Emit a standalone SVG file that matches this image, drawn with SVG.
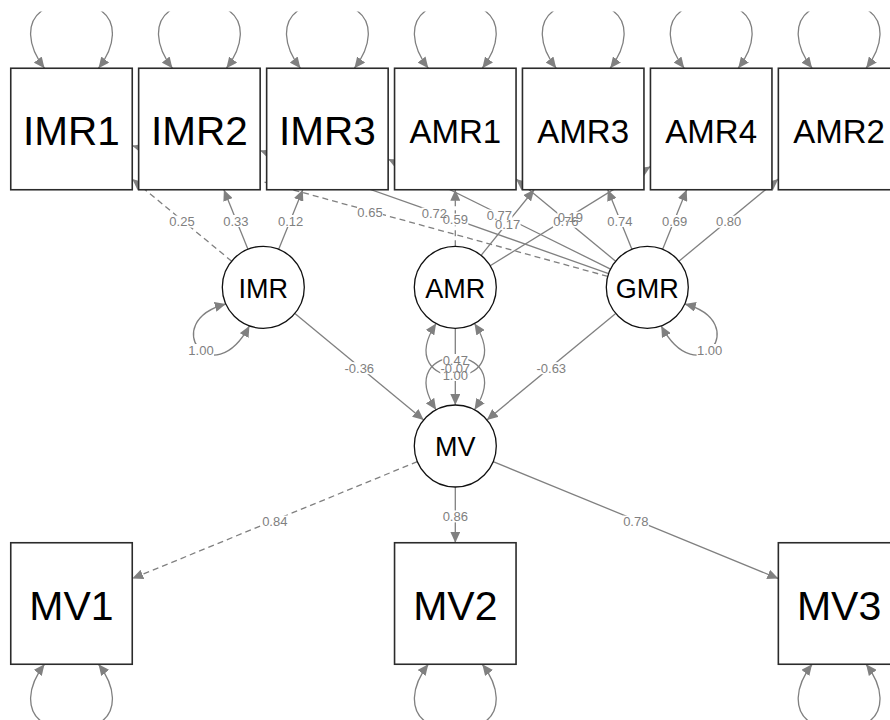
<svg xmlns="http://www.w3.org/2000/svg" xmlns:xlink="http://www.w3.org/1999/xlink" width="890" height="720" viewBox="0 0 890 720">
  <style>
    .edge { fill: none; stroke: #808080; stroke-width: 1.3; }
    .dash { stroke-dasharray: 6 4; }
    .box { fill: #ffffff; stroke: #2b2b2b; stroke-width: 1.6; }
    .lat { fill: #ffffff; stroke: #111111; stroke-width: 1.3; }
    .lblbg { fill: #ffffff; }
    .lbl { font-family: "Liberation Sans", Arial, sans-serif; font-size: 13px; fill: #808080; text-anchor: middle; }
    .name { font-family: "Liberation Sans", Arial, sans-serif; fill: #000000; text-anchor: middle; }
  </style>
  <defs>
    <marker id="ah" viewBox="0 0 11 10" refX="11" refY="5" markerWidth="11" markerHeight="10" markerUnits="userSpaceOnUse" orient="auto-start-reverse">
      <path d="M0,0 L11,5 L0,10 z" fill="#808080"/>
    </marker>
    <clipPath id="plotArea">
      <rect x="0" y="11.5" width="890" height="720"/>
    </clipPath>
    <!-- residual variance loops for manifest variables, centred on x = 0 -->
    <path id="loopTop" class="edge" d="M-27,68.25 C-45,45 -45,22 -30,11 C-15,0 15,0 30,11 C45,22 45,45 27,68.25" marker-start="url(#ah)" marker-end="url(#ah)"/>
    <path id="loopBottom" class="edge" d="M-27,664.25 C-45,687.5 -45,710.5 -30,721.5 C-15,732.5 15,732.5 30,721.5 C45,710.5 45,687.5 27,664.25" marker-start="url(#ah)" marker-end="url(#ah)"/>
  </defs>

  <rect x="0" y="0" width="890" height="720" fill="#ffffff"/>

  <g id="connectors">
    <!-- variances of the indicators -->
    <g clip-path="url(#plotArea)">
      <use xlink:href="#loopTop" x="71.5"/>
      <use xlink:href="#loopTop" x="199.4"/>
      <use xlink:href="#loopTop" x="327.4"/>
      <use xlink:href="#loopTop" x="455.3"/>
      <use xlink:href="#loopTop" x="583.2"/>
      <use xlink:href="#loopTop" x="711.2"/>
      <use xlink:href="#loopTop" x="839.1"/>
    </g>
    <use xlink:href="#loopBottom" x="71.5"/>
    <use xlink:href="#loopBottom" x="455.3"/>
    <use xlink:href="#loopBottom" x="839.1"/>

    <!-- variances of the latent variables -->
    <path class="edge" d="M225.8,304 C158,322 212,395 249.4,325.9" marker-start="url(#ah)" marker-end="url(#ah)"/>
    <path class="edge" d="M684.8,304 C752.6,322 698.6,395 661.2,325.9" marker-start="url(#ah)" marker-end="url(#ah)"/>
    <path class="edge" d="M436.1,323.5 C390,393.5 520.6,393.5 474.5,323.5" marker-start="url(#ah)" marker-end="url(#ah)"/>
    <path class="edge" d="M436.1,409.8 C390,339.8 520.6,339.8 474.5,409.8" marker-start="url(#ah)" marker-end="url(#ah)"/>

    <!-- IMR loadings -->
    <line class="edge dash" x1="231.7" y1="261.2" x2="132.25" y2="179.1" marker-end="url(#ah)"/>
    <line class="edge" x1="247.95" y1="249.3" x2="223.9" y2="189.75" marker-end="url(#ah)"/>
    <line class="edge" x1="278.7" y1="249.3" x2="302.8" y2="189.75" marker-end="url(#ah)"/>
    <!-- AMR loadings -->
    <line class="edge dash" x1="455.3" y1="246.3" x2="455.3" y2="189.75" marker-end="url(#ah)"/>
    <line class="edge" x1="481.1" y1="255.4" x2="534.1" y2="189.75" marker-end="url(#ah)"/>
    <line class="edge" x1="490.2" y1="265.7" x2="650.45" y2="166.6" marker-end="url(#ah)"/>
    <!-- GMR loadings -->
    <line class="edge dash" x1="607.8" y1="276.4" x2="132.25" y2="145.7" marker-end="url(#ah)"/>
    <line class="edge" x1="608.6" y1="273.6" x2="260.15" y2="150.5" marker-end="url(#ah)"/>
    <line class="edge" x1="610.55" y1="269.1" x2="388.15" y2="159.1" marker-end="url(#ah)"/>
    <line class="edge" x1="615.66" y1="261.2" x2="516.05" y2="179.1" marker-end="url(#ah)"/>
    <line class="edge" x1="631.9" y1="249.3" x2="607.8" y2="189.75" marker-end="url(#ah)"/>
    <line class="edge" x1="662.65" y1="249.3" x2="686.7" y2="189.75" marker-end="url(#ah)"/>
    <line class="edge" x1="678.9" y1="261.2" x2="778.35" y2="179.1" marker-end="url(#ah)"/>
    <!-- regressions on MV -->
    <line class="edge" x1="294.9" y1="313.4" x2="423.7" y2="419.9" marker-end="url(#ah)"/>
    <line class="edge" x1="455.3" y1="328.3" x2="455.3" y2="405" marker-end="url(#ah)"/>
    <line class="edge" x1="615.7" y1="313.4" x2="486.9" y2="419.9" marker-end="url(#ah)"/>
    <!-- MV loadings -->
    <line class="edge dash" x1="417.4" y1="461.6" x2="132.25" y2="578.6" marker-end="url(#ah)"/>
    <line class="edge" x1="455.3" y1="487" x2="455.3" y2="542.75" marker-end="url(#ah)"/>
    <line class="edge" x1="493.2" y1="461.6" x2="778.35" y2="578.6" marker-end="url(#ah)"/>
  </g>

  <g id="edge-labels">
    <g class="lblbg">
      <rect x="169" y="215.6" width="26" height="12"/>
      <rect x="222.9" y="215" width="26" height="12"/>
      <rect x="277.7" y="215" width="26" height="12"/>
      <rect x="442.3" y="213.5" width="26" height="12"/>
      <rect x="494.6" y="218.1" width="26" height="12"/>
      <rect x="557.3" y="211.7" width="26" height="12"/>
      <rect x="357" y="206.6" width="26" height="12"/>
      <rect x="421.4" y="207.6" width="26" height="12"/>
      <rect x="486.4" y="209.6" width="26" height="12"/>
      <rect x="552.9" y="215.7" width="26" height="12"/>
      <rect x="606.9" y="215" width="26" height="12"/>
      <rect x="661.7" y="215" width="26" height="12"/>
      <rect x="715.6" y="215.7" width="26" height="12"/>
      <rect x="344.3" y="362.15" width="30" height="12"/>
      <rect x="536.3" y="362.15" width="30" height="12"/>
      <rect x="440.3" y="362.15" width="30" height="12"/>
      <rect x="261.8" y="515.6" width="26" height="12"/>
      <rect x="442.3" y="510.4" width="26" height="12"/>
      <rect x="622.8" y="515.6" width="26" height="12"/>
      <rect x="188" y="344" width="26" height="12"/>
      <rect x="696.6" y="344" width="26" height="12"/>
      <rect x="442.3" y="369" width="26" height="12"/>
      <rect x="442.3" y="354" width="26" height="12"/>
    </g>
    <text class="lbl" x="182" y="226.2">0.25</text>
    <text class="lbl" x="235.9" y="225.6">0.33</text>
    <text class="lbl" x="290.7" y="225.6">0.12</text>
    <text class="lbl" x="455.3" y="224.1">0.59</text>
    <text class="lbl" x="507.6" y="228.7">0.17</text>
    <text class="lbl" x="570.3" y="222.3">0.19</text>
    <text class="lbl" x="370" y="217.2">0.65</text>
    <text class="lbl" x="434.4" y="218.2">0.72</text>
    <text class="lbl" x="499.4" y="220.2">0.77</text>
    <text class="lbl" x="565.9" y="226.3">0.76</text>
    <text class="lbl" x="619.9" y="225.6">0.74</text>
    <text class="lbl" x="674.7" y="225.6">0.69</text>
    <text class="lbl" x="728.6" y="226.3">0.80</text>
    <text class="lbl" x="359.3" y="372.75">-0.36</text>
    <text class="lbl" x="551.3" y="372.75">-0.63</text>
    <text class="lbl" x="455.3" y="372.75">-0.07</text>
    <text class="lbl" x="274.8" y="526.2">0.84</text>
    <text class="lbl" x="455.3" y="521">0.86</text>
    <text class="lbl" x="635.8" y="526.2">0.78</text>
    <text class="lbl" x="201" y="354.6">1.00</text>
    <text class="lbl" x="709.6" y="354.6">1.00</text>
    <text class="lbl" x="455.3" y="379.6">1.00</text>
    <text class="lbl" x="455.3" y="364.6">0.47</text>
  </g>

  <!-- manifest variables -->
  <g id="node-IMR1"><rect class="box" x="10.75" y="68.25" width="121.5" height="121.5"/><text class="name" x="71.5" y="145" font-size="40.5">IMR1</text></g>
  <g id="node-IMR2"><rect class="box" x="138.65" y="68.25" width="121.5" height="121.5"/><text class="name" x="199.4" y="145" font-size="40.5">IMR2</text></g>
  <g id="node-IMR3"><rect class="box" x="266.65" y="68.25" width="121.5" height="121.5"/><text class="name" x="327.4" y="145" font-size="40.5">IMR3</text></g>
  <g id="node-AMR1"><rect class="box" x="394.55" y="68.25" width="121.5" height="121.5"/><text class="name" x="455.3" y="143.3" font-size="33">AMR1</text></g>
  <g id="node-AMR3"><rect class="box" x="522.45" y="68.25" width="121.5" height="121.5"/><text class="name" x="583.2" y="143.3" font-size="33">AMR3</text></g>
  <g id="node-AMR4"><rect class="box" x="650.45" y="68.25" width="121.5" height="121.5"/><text class="name" x="711.2" y="143.3" font-size="33">AMR4</text></g>
  <g id="node-AMR2"><rect class="box" x="778.35" y="68.25" width="121.5" height="121.5"/><text class="name" x="839.1" y="143.3" font-size="33">AMR2</text></g>
  <g id="node-MV1"><rect class="box" x="10.75" y="542.75" width="121.5" height="121.5"/><text class="name" x="71.5" y="620" font-size="41">MV1</text></g>
  <g id="node-MV2"><rect class="box" x="394.55" y="542.75" width="121.5" height="121.5"/><text class="name" x="455.3" y="620" font-size="41">MV2</text></g>
  <g id="node-MV3"><rect class="box" x="778.35" y="542.75" width="121.5" height="121.5"/><text class="name" x="839.1" y="620" font-size="41">MV3</text></g>

  <!-- latent variables -->
  <g id="node-IMR"><circle class="lat" cx="263.3" cy="287.3" r="41"/><text class="name" x="263.3" y="297.8" font-size="27">IMR</text></g>
  <g id="node-AMR"><circle class="lat" cx="455.3" cy="287.3" r="41"/><text class="name" x="455.3" y="297.8" font-size="27">AMR</text></g>
  <g id="node-GMR"><circle class="lat" cx="647.3" cy="287.3" r="41"/><text class="name" x="647.3" y="297.8" font-size="27">GMR</text></g>
  <g id="node-MV"><circle class="lat" cx="455.3" cy="446" r="41"/><text class="name" x="455.3" y="456" font-size="27">MV</text></g>
</svg>
